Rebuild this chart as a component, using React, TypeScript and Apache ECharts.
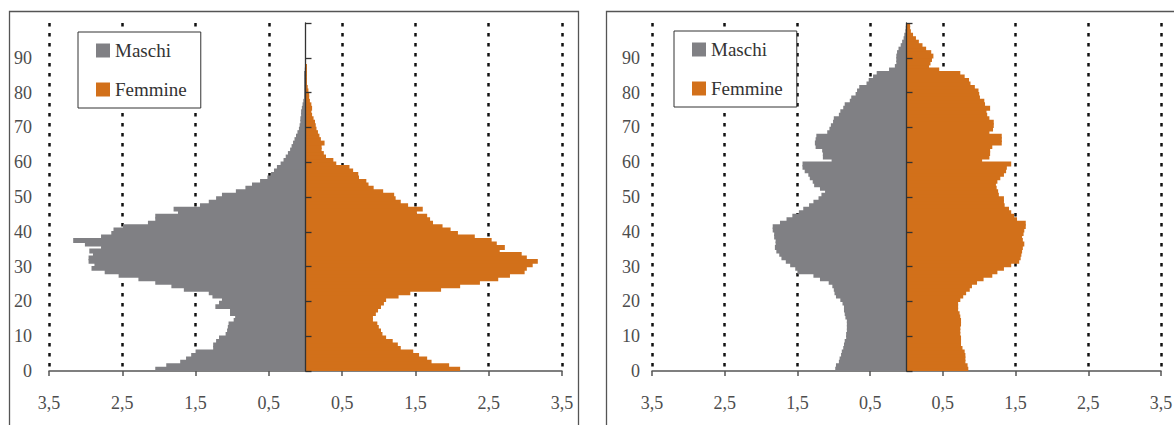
import { useEffect, useRef } from "react";
import * as echarts from "echarts";

// Age classes 0..99
const AGES: string[] = [
  "0","1","2","3","4","5","6","7","8","9","10","11","12","13","14","15","16","17","18","19",
  "20","21","22","23","24","25","26","27","28","29","30","31","32","33","34","35","36","37","38","39",
  "40","41","42","43","44","45","46","47","48","49","50","51","52","53","54","55","56","57","58","59",
  "60","61","62","63","64","65","66","67","68","69","70","71","72","73","74","75","76","77","78","79",
  "80","81","82","83","84","85","86","87","88","89","90","91","92","93","94","95","96","97","98","99",
];

// Left pyramid, % of population by single year of age
const LEFT_MASCHI: number[] = [
  2.05, 1.90, 1.71, 1.63, 1.56, 1.50, 1.26, 1.26, 1.22, 1.18,
  1.09, 1.07, 1.06, 1.05, 0.98, 0.96, 1.03, 1.03, 1.23, 1.18,
  1.14, 1.27, 1.32, 1.66, 1.83, 2.05, 2.28, 2.55, 2.74, 2.92,
  2.88, 2.96, 2.96, 2.90, 2.95, 2.79, 3.01, 3.17, 2.79, 2.65,
  2.62, 2.49, 2.15, 2.05, 2.05, 1.74, 1.80, 1.44, 1.32, 1.22,
  1.14, 0.95, 0.82, 0.73, 0.62, 0.52, 0.47, 0.43, 0.39, 0.34,
  0.30, 0.27, 0.24, 0.21, 0.19, 0.17, 0.15, 0.13, 0.11, 0.09,
  0.08, 0.07, 0.07, 0.06, 0.06, 0.05, 0.04, 0.03, 0.02, 0.02,
  0.02, 0.02, 0.02, 0.02, 0.02, 0.02, 0.01, 0, 0, 0,
  0, 0, 0, 0, 0, 0, 0, 0, 0, 0,
];
const LEFT_FEMMINE: number[] = [
  2.11, 1.96, 1.72, 1.66, 1.55, 1.47, 1.30, 1.26, 1.19, 1.10,
  1.05, 1.03, 1.00, 0.98, 0.92, 0.92, 0.96, 0.99, 1.03, 1.07,
  1.10, 1.27, 1.43, 1.85, 2.11, 2.38, 2.63, 2.79, 2.99, 3.02,
  3.10, 3.17, 3.02, 2.95, 2.65, 2.72, 2.61, 2.54, 2.31, 2.08,
  1.98, 1.87, 1.74, 1.70, 1.66, 1.52, 1.60, 1.40, 1.30, 1.23,
  1.21, 1.06, 0.93, 0.86, 0.83, 0.73, 0.72, 0.65, 0.60, 0.42,
  0.38, 0.28, 0.25, 0.22, 0.22, 0.26, 0.21, 0.19, 0.17, 0.15,
  0.14, 0.13, 0.11, 0.09, 0.08, 0.09, 0.08, 0.06, 0.05, 0.05,
  0.04, 0.03, 0.02, 0.02, 0.02, 0.02, 0.02, 0.02, 0, 0,
  0, 0, 0, 0, 0, 0, 0, 0, 0, 0,
];

// Right pyramid
const RIGHT_MASCHI: number[] = [
  0.98, 0.97, 0.93, 0.92, 0.90, 0.89, 0.87, 0.86, 0.85, 0.83,
  0.83, 0.82, 0.82, 0.82, 0.82, 0.84, 0.85, 0.86, 0.86, 0.88,
  0.91, 0.97, 0.99, 1.00, 1.02, 1.07, 1.19, 1.28, 1.50, 1.53,
  1.60, 1.66, 1.72, 1.75, 1.79, 1.81, 1.80, 1.80, 1.82, 1.82,
  1.84, 1.84, 1.74, 1.65, 1.57, 1.48, 1.42, 1.34, 1.28, 1.21,
  1.17, 1.12, 1.19, 1.27, 1.29, 1.33, 1.35, 1.40, 1.43, 1.43,
  1.03, 1.15, 1.15, 1.16, 1.25, 1.26, 1.25, 1.24, 1.09, 1.06,
  1.04, 1.01, 1.00, 0.93, 0.91, 0.87, 0.85, 0.78, 0.76, 0.70,
  0.68, 0.65, 0.55, 0.52, 0.46, 0.41, 0.24, 0.16, 0.14, 0.14,
  0.14, 0.13, 0.11, 0.08, 0.06, 0.04, 0.03, 0.015, 0.01, 0.005,
];
const RIGHT_FEMMINE: number[] = [
  0.85, 0.84, 0.81, 0.81, 0.81, 0.80, 0.77, 0.75, 0.75, 0.75,
  0.74, 0.74, 0.74, 0.75, 0.75, 0.74, 0.73, 0.71, 0.71, 0.71,
  0.74, 0.78, 0.82, 0.87, 0.90, 0.97, 1.06, 1.18, 1.25, 1.34,
  1.44, 1.55, 1.57, 1.58, 1.59, 1.60, 1.62, 1.60, 1.59, 1.61,
  1.62, 1.64, 1.64, 1.52, 1.48, 1.44, 1.41, 1.35, 1.34, 1.34,
  1.27, 1.26, 1.24, 1.23, 1.25, 1.29, 1.34, 1.37, 1.38, 1.44,
  1.04, 1.14, 1.15, 1.15, 1.18, 1.31, 1.31, 1.31, 1.14, 1.19,
  1.20, 1.20, 1.14, 1.11, 1.10, 1.15, 1.08, 1.07, 1.01, 1.00,
  0.99, 0.94, 0.88, 0.86, 0.80, 0.74, 0.45, 0.31, 0.33, 0.35,
  0.37, 0.34, 0.27, 0.22, 0.17, 0.13, 0.09, 0.06, 0.05, 0.05,
];

const LEGEND_NAMES = ["Maschi", "Femmine"];

const GRAY = "#808084";
const ORANGE = "#D2701A";
const FONT = "Liberation Serif";
const LABEL_COLOR = "#4d4d4d";

const fmtX = (v: number) => Math.abs(v).toFixed(1).replace(".", ",");

function buildOption() {
  const grids = [
    { left: 49, top: 23, width: 513, height: 348, labelMargin: 17, legendLeft: 78, legendTop: 32 },
    { left: 652, top: 23, width: 509, height: 348, labelMargin: 12, legendLeft: 674, legendTop: 31 },
  ];
  const panels = [
    { m: LEFT_MASCHI, f: LEFT_FEMMINE },
    { m: RIGHT_MASCHI, f: RIGHT_FEMMINE },
  ];

  const xAxis: any[] = [];
  const yAxis: any[] = [];
  const series: any[] = [];
  const legend: any[] = [];

  grids.forEach((g, i) => {
    xAxis.push({
      gridIndex: i,
      type: "value",
      min: -3.5,
      max: 3.5,
      interval: 1,
      axisLine: { show: true, onZero: false, lineStyle: { color: "#555", width: 1.5 } },
      axisTick: { show: true, length: 5, lineStyle: { color: "#555", width: 1.5 } },
      axisLabel: { formatter: fmtX, margin: 23, color: LABEL_COLOR, fontSize: 18, fontFamily: FONT },
      splitLine: { show: true, lineStyle: { color: "#111", width: 2.5, type: [3.5, 6.5] } },
    });
    // hidden category axis carrying the bars
    yAxis.push({
      gridIndex: i,
      type: "category",
      data: AGES,
      show: false,
      axisLine: { onZero: false },
    });
    // age labels on the left
    yAxis.push({
      gridIndex: i,
      type: "value",
      min: 0,
      max: 100,
      interval: 10,
      position: "left",
      axisLine: { show: false, onZero: false },
      axisTick: { show: false },
      splitLine: { show: false },
      axisLabel: {
        formatter: (v: number) => (v >= 100 ? "" : String(v)),
        margin: g.labelMargin,
        color: LABEL_COLOR,
        fontSize: 18,
        fontFamily: FONT,
      },
    });
    // central axis line with ticks
    yAxis.push({
      gridIndex: i,
      type: "value",
      min: 0,
      max: 100,
      interval: 10,
      position: "left",
      z: 5,
      axisLine: { show: true, onZero: true, lineStyle: { color: "#333", width: 1.3 } },
      axisTick: { show: true, inside: true, length: 6, lineStyle: { color: "#333", width: 1.3 } },
      axisLabel: { show: false },
      splitLine: { show: false },
    });

    series.push({
      name: "Maschi",
      type: "bar",
      xAxisIndex: i,
      yAxisIndex: i * 3,
      data: panels[i].m.map((v) => -v),
      barWidth: "140%",
      barGap: "-100%",
      itemStyle: { color: GRAY },
      silent: true,
    });
    series.push({
      name: "Femmine",
      type: "bar",
      xAxisIndex: i,
      yAxisIndex: i * 3,
      data: panels[i].f,
      barWidth: "140%",
      barGap: "-100%",
      itemStyle: { color: ORANGE },
      silent: true,
    });

    legend.push({
      data: LEGEND_NAMES,
      left: g.legendLeft,
      top: g.legendTop,
      orient: "vertical",
      selectedMode: false,
      icon: "rect",
      itemWidth: 14,
      itemHeight: 14,
      itemGap: 20,
      padding: [9, 14, 9, 18],
      backgroundColor: "#fff",
      borderColor: "#333",
      borderWidth: 1,
      textStyle: { fontSize: 19, fontFamily: FONT, color: "#333" },
    });
  });

  return {
    animation: false,
    backgroundColor: "#fff",
    textStyle: { fontFamily: FONT },
    grid: grids.map((g) => ({
      left: g.left,
      top: g.top,
      width: g.width,
      height: g.height,
      containLabel: false,
      outerBoundsMode: "none",
    })),
    xAxis,
    yAxis,
    series,
    legend,
    graphic: [
      {
        type: "rect",
        silent: true,
        shape: { x: 9.5, y: 11.5, width: 569, height: 500 },
        style: { fill: "none", stroke: "#555", lineWidth: 1.3 },
      },
      {
        type: "rect",
        silent: true,
        shape: { x: 606.5, y: 11.5, width: 700, height: 500 },
        style: { fill: "none", stroke: "#555", lineWidth: 1.3 },
      },
    ],
  };
}

export default function App() {
  const ref = useRef<HTMLDivElement>(null);
  useEffect(() => {
    if (!ref.current) return;
    const chart = echarts.init(ref.current, null, { renderer: "svg" });
    chart.setOption(buildOption() as any);
    return () => chart.dispose();
  }, []);
  return (
    <div
      ref={ref}
      style={{ position: "fixed", left: 0, top: 0, width: 1174, height: 425, background: "#fff" }}
    />
  );
}
